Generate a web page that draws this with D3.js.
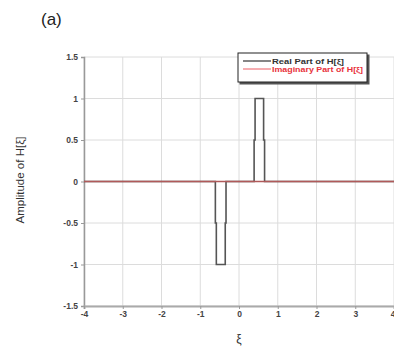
<!DOCTYPE html>
<html>
<head>
<meta charset="utf-8">
<script src="https://cdn.jsdelivr.net/npm/d3@7/dist/d3.min.js"></script>
<style>
  body { margin: 0; background: #fff; }
  svg text { font-family: "Liberation Sans", Arial, sans-serif; }
</style>
</head>
<body>
<svg id="chart" width="394" height="348"></svg>
<script>
// data
var realX = [-4, -0.61, -0.61, -0.585, -0.585, -0.355, -0.355, -0.335, -0.335, 0.39, 0.39, 0.415, 0.415, 0.635, 0.635, 0.66, 0.66, 4];
var realY = [0, 0, -0.5, -0.5, -1, -1, -0.5, -0.5, 0, 0, 0.5, 0.5, 1, 1, 0.5, 0.5, 0, 0];
var imagX = [-4, 4];
var imagY = [0, 0];
var xTicks = [-4, -3, -2, -1, 0, 1, 2, 3, 4];
var yTicks = [-1.5, -1, -0.5, 0, 0.5, 1, 1.5];
var legendLabels = ["Real Part of H[\u03be]", "Imaginary Part of H[\u03be]"];

var svg = d3.select("#chart");
// plot box edges (not "top" - that one is taken by window.top)
var pLeft = 84, pRight = 394, pTop = 57, pBottom = 306;

var x = d3.scaleLinear().domain([-4, 4]).range([pLeft, pRight]);
var y = d3.scaleLinear().domain([-1.5, 1.5]).range([pBottom, pTop]);

// plain hyphen for negatives, like the figure
var fmt = d => String(d);

// grid
svg.append("g").selectAll("line").data(xTicks).join("line")
  .attr("x1", d => x(d)).attr("x2", d => x(d))
  .attr("y1", pTop).attr("y2", pBottom)
  .attr("stroke", "#dcdcdc").attr("stroke-width", 1);
svg.append("g").selectAll("line").data(yTicks).join("line")
  .attr("x1", pLeft).attr("x2", pRight)
  .attr("y1", d => y(d)).attr("y2", d => y(d))
  .attr("stroke", "#dcdcdc").attr("stroke-width", 1);

// axes
var yAxis = svg.append("g").attr("transform", "translate(" + pLeft + ",0)")
  .call(d3.axisLeft(y).tickValues(yTicks).tickSize(3).tickPadding(3).tickFormat(fmt));
var xAxis = svg.append("g").attr("transform", "translate(0," + pBottom + ")")
  .call(d3.axisBottom(x).tickValues(xTicks).tickSize(3).tickPadding(2).tickFormat(fmt));

yAxis.select(".domain").attr("stroke", "#999").attr("stroke-width", 1.5);
xAxis.select(".domain").attr("stroke", "#aaa").attr("stroke-width", 2);
svg.selectAll(".tick line").attr("stroke", "#999");
svg.selectAll(".tick text").attr("font-size", 8.5).attr("font-weight", "bold").attr("fill", "#444")
  .style("font-family", "'Liberation Sans', Arial, sans-serif");
// the last x label is cut by the window edge in the figure too
xAxis.selectAll(".tick text").filter(d => d === 4).attr("text-anchor", "end").attr("dx", 1);

// series
var line = d3.line().x(d => x(d[0])).y(d => y(d[1]));
svg.append("path").datum(d3.zip(realX, realY))
  .attr("d", line).attr("fill", "none")
  .attr("stroke", "#555").attr("stroke-width", 1.6);
svg.append("path").datum(d3.zip(imagX, imagY))
  .attr("d", line).attr("fill", "none")
  .attr("stroke", "#b05a5a").attr("stroke-width", 1.4);

// legend
var lg = svg.append("g").attr("transform", "translate(238,53)");
lg.append("rect").attr("x", 1.5).attr("y", 1.5).attr("width", 130).attr("height", 30).attr("fill", "#555");
lg.append("rect").attr("width", 129).attr("height", 29)
  .attr("fill", "#fff").attr("stroke", "#222").attr("stroke-width", 1);
var lgColors = ["#333", "#e8323c"];
var lgWidths = [72, 91];
legendLabels.forEach(function(t, i) {
  lg.append("line").attr("x1", 5).attr("x2", 33)
    .attr("y1", 8 + i * 8).attr("y2", 8 + i * 8)
    .attr("stroke", lgColors[i]).attr("stroke-width", i ? 0.8 : 1.2);
  lg.append("text").attr("x", 34).attr("y", 11 + i * 8)
    .attr("font-size", 8).attr("font-weight", "bold")
    .attr("textLength", lgWidths[i]).attr("lengthAdjust", "spacingAndGlyphs")
    .attr("fill", lgColors[i]).text(t);
});

// labels
svg.append("text").attr("x", 41).attr("y", 25).attr("font-size", 17).attr("fill", "#222").text("(a)");
svg.append("text").attr("transform", "translate(24,180) rotate(-90)")
  .attr("text-anchor", "middle").attr("font-size", 11.5).attr("fill", "#333")
  .text("Amplitude of H[\u03be]");
svg.append("text").attr("x", 239).attr("y", 343).attr("text-anchor", "middle")
  .attr("font-size", 12).attr("fill", "#333").text("\u03be");
</script>
</body>
</html>
